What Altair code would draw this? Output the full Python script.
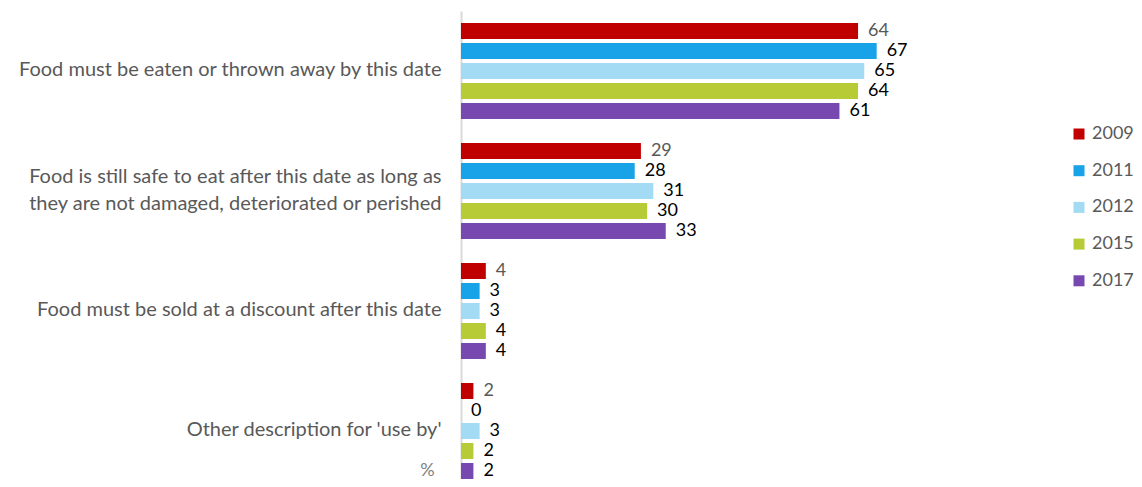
import altair as alt
import pandas as pd

categories = [
    "Food must be eaten or thrown away by this date",
    "Food is still safe to eat after this date as long as|they are not damaged, deteriorated or perished",
    "Food must be sold at a discount after this date",
    "Other description for 'use by'",
]
years = ["2009", "2011", "2012", "2015", "2017"]
values_2009 = [64, 29, 4, 2]
values_2011 = [67, 28, 3, 0]
values_2012 = [65, 31, 3, 3]
values_2015 = [64, 30, 4, 2]
values_2017 = [61, 33, 4, 2]
colors = ["#C00000", "#18A3E8", "#A3DBF5", "#B7CB37", "#7748AF"]

series = [values_2009, values_2011, values_2012, values_2015, values_2017]
rows = []
for yr, vals in zip(years, series):
    for cat, v in zip(categories, vals):
        rows.append({"category": cat, "year": yr, "value": v})
df = pd.DataFrame(rows)

FONT = "Lato"

base = alt.Chart(df).encode(
    y=alt.Y(
        "category:N",
        sort=categories,
        scale=alt.Scale(paddingInner=0, paddingOuter=0),
        axis=alt.Axis(
            title="%",
            titleAngle=0,
            titleX=-34,
            titleY=459,
            titleAlign="center",
            titleBaseline="middle",
            titleFont=FONT,
            titleFontSize=18,
            titleFontWeight="normal",
            titleColor="#7f7f7f",
            labelFont=FONT,
            labelFontSize=20,
            labelColor="#595959",
            labelPadding=20,
            labelLimit=0,
            labelLineHeight=27,
            labelExpr="split(datum.label, '|')",
            labelOffset={
                "condition": {"test": "indexof(datum.label, '|') >= 0", "value": -14},
                "value": -1,
            },
            ticks=False,
            domainColor="#d9d9d9",
            domainWidth=2,
            grid=False,
        ),
    ),
    yOffset=alt.YOffset(
        "year:N",
        sort=years,
        scale=alt.Scale(paddingInner=0.2, paddingOuter=0.6),
    ),
    x=alt.X(
        "value:Q",
        scale=alt.Scale(domain=[0, 98], nice=False),
        axis=None,
    ),
)

bars = base.mark_bar().encode(
    color=alt.Color(
        "year:N",
        sort=years,
        scale=alt.Scale(domain=years, range=colors),
        legend=alt.Legend(
            title=None,
            orient="none",
            legendX=609,
            legendY=114,
            symbolType="square",
            symbolSize=121,
            symbolStrokeWidth=0,
            labelFont=FONT,
            labelFontSize=18,
            labelColor="#595959",
            rowPadding=18.7,
            labelOffset=4,
        ),
    )
)

labels = base.mark_text(
    align="left", baseline="middle", dx=10, font=FONT, fontSize=18
).encode(
    text="value:Q",
    color=alt.condition(
        alt.datum.year == "2009", alt.value("#595959"), alt.value("black")
    ),
)

chart = (
    alt.layer(bars, labels)
    .properties(
        width=608,
        height=480,
        autosize=alt.AutoSizeParams(type="none"),
        padding={"left": 453, "top": 3, "right": 65, "bottom": -12},
    )
    .configure_view(stroke=None)
)

chart.save("out.html", embed_options={"renderer": "svg", "actions": False})
